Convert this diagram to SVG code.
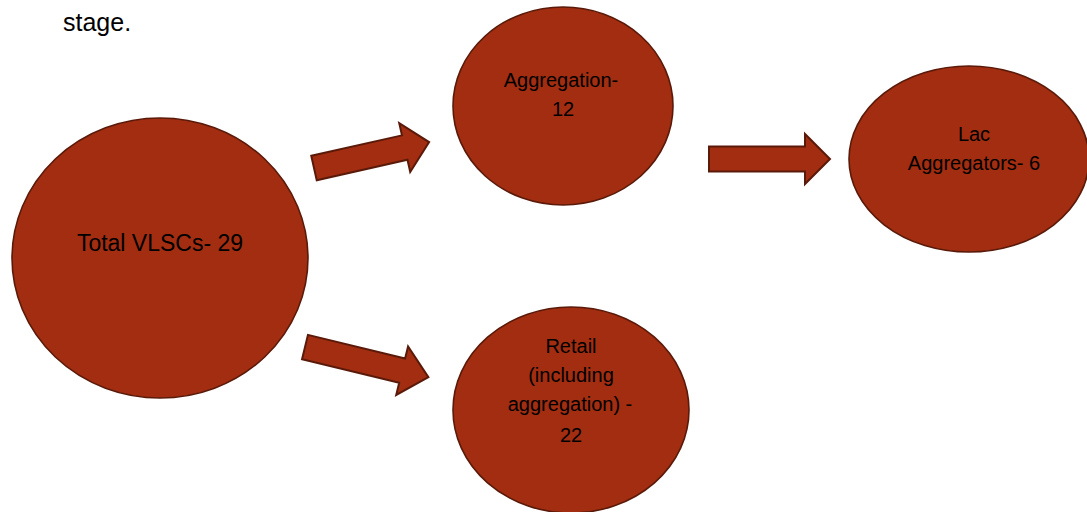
<svg xmlns="http://www.w3.org/2000/svg" width="1087" height="512" viewBox="0 0 1087 512">
<style>
.node{fill:#A32D10;stroke:#5A1A0A;stroke-width:1.6}
.arrow{fill:#A32D10;stroke:#5A1A0A;stroke-width:2;stroke-linejoin:miter}
text{font-family:"Liberation Sans",Arial,sans-serif;fill:#000;text-anchor:middle}
.t{font-size:20px}
</style>
<text x="63" y="31" style="font-size:25px;text-anchor:start">stage.</text>
<g id="node-total">
<ellipse class="node" cx="160" cy="258" rx="148" ry="140"/>
<text x="160" y="251" style="font-size:23px">Total VLSCs- 29</text>
</g>
<g id="node-aggregation">
<ellipse class="node" cx="563" cy="106" rx="110" ry="99"/>
<text class="t" x="561" y="87">Aggregation-</text>
<text class="t" x="563" y="116">12</text>
</g>
<g id="node-lac">
<ellipse class="node" cx="969" cy="159" rx="120" ry="93"/>
<text class="t" x="974" y="141">Lac</text>
<text class="t" x="974" y="170">Aggregators- 6</text>
</g>
<g id="node-retail">
<ellipse class="node" cx="571" cy="410" rx="118" ry="103"/>
<text class="t" x="571" y="353">Retail</text>
<text class="t" x="571" y="382">(including</text>
<text class="t" x="570" y="411">aggregation) -</text>
<text class="t" x="571" y="442">22</text>
</g>
<g id="connectors">
<path class="arrow" transform="translate(314,168) rotate(-12.7)" d="M0,-12.5 H93 V-25 L118,0 L93,25 V12.5 H0 Z"/>
<path class="arrow" transform="translate(305,347) rotate(13.7)" d="M0,-12.5 H100 V-25 L127,0 L100,25 V12.5 H0 Z"/>
<path class="arrow" transform="translate(709,159)" d="M0,-12.5 H96 V-25 L121,0 L96,25 V12.5 H0 Z"/>
</g>
</svg>
